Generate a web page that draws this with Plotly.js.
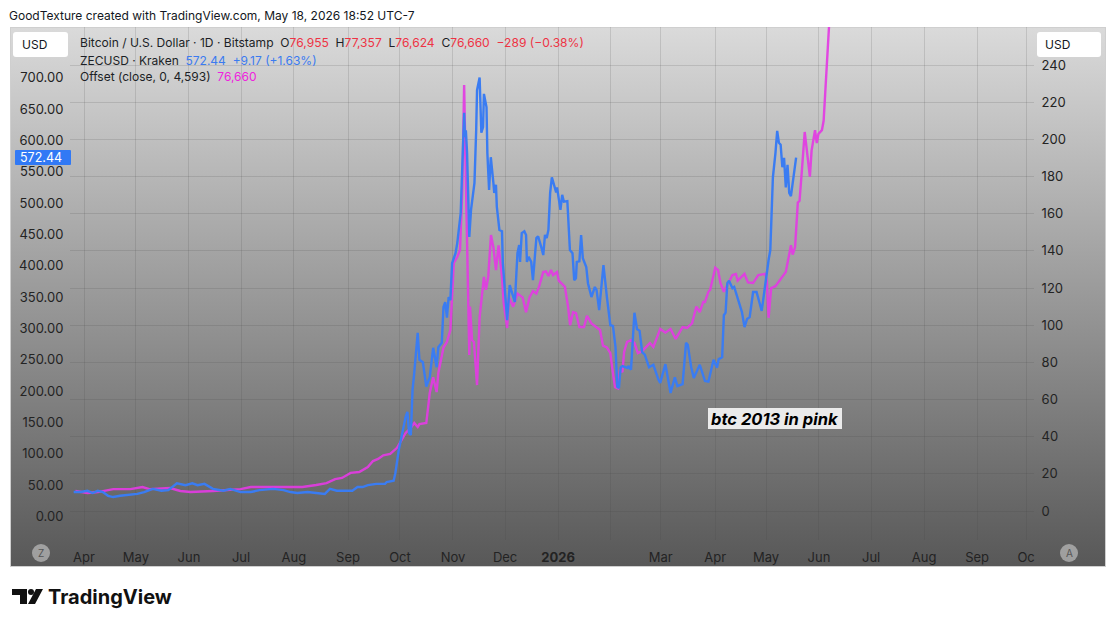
<!DOCTYPE html>
<html><head><meta charset="utf-8">
<script src="https://cdn.plot.ly/plotly-3.0.1.min.js"></script>
<style>
html,body{margin:0;padding:0;background:#fff;width:1115px;height:627px;overflow:hidden}
#bg{position:absolute;left:10px;top:27px;width:1094px;height:538px;border:1px solid #cfcfcf;background:linear-gradient(to bottom,#dadada,#585858)}
#chart{position:absolute;left:0;top:0;width:1115px;height:627px}
</style></head><body>
<div id="bg"></div><div id="chart"></div>
<script>
// Bars are counted in days from the Apr 2025 tick.
const monthTickBar=[0,30.2,61,91.3,122,153.5,183.7,214.5,244.8,275.6,305.8,335.3,367,396.5,427.3,457.6,488.4,519.2,547.7];
const monthTickLabel=['Apr','May','Jun','Jul','Aug','Sep','Oct','Nov','Dec','<b>2026</b>','','Mar','Apr','May','Jun','Jul','Aug','Sep','Oc'];
const leftTicks=[0,50,100,150,200,250,300,350,400,450,500,550,600,650,700];
const rightTicks=[0,20,40,60,80,100,120,140,160,180,200,220,240];

const blueBar=[-6,-2,2,5,8,11,14,17,21,25,31,35,40,45,49,54,59,63,66,70,75,81,85,91,97,102,110,116,120,124,130,135,140,143,147,151,156,159,162,165,170,175,176,180,181,183,185,187,188,189,190,191,192,194,195,197,199,201,203,205,206,208,209,210,211,212,213,214,216,217,219,220,221,221.5,222,222.7,224,225,226,227,228,228.5,230,230.5,231,232,232.5,234,234.5,235.5,236.5,238,238.5,239.5,240,241.5,243,243.5,246,247.5,249.5,250.5,252,253,253.5,254.5,256,257,257.5,258.5,260,261,263,264,266,267,268,269,270,271,272,273,274.5,275,277,278,279,281,282.5,284,285,286,286.5,288,289,290,292,293,295,297,298,299.5,302,304,306,307.5,309,310,311,312,313,316,316.5,318,320,321.5,323,324.5,326,328.5,331,334,335,338,339.5,341,343.5,345,348,350,351,353,354.5,358,361,363,366,368,369,371,372,373,374,375,377,378,382.5,384,385.5,387,389,391,394,396,398,399,400.5,402,403,404,405,406,407,408,409,410,411,414];
const blueClose=[39,39,41,37.5,41,39,33,31,33,34,36,39,44,41,42,53,50,53,50,52,44,41,44,39,39,42,44,42,39,37.5,39,37.5,36,44,41,41,41,47,47,50,52,52,55,57,69,106,133,159,167,133,130,202,229,293,250,246,207,222,269,238,270,277,334,342,317,350,345,404,420,436,484,580,644,605,616,580,446,489,510,532,616,680,700,660,612,621,674,653,580,521,573,532,516,529,494,457,455,404,313,369,350,342,420,433,406,452,455,449,406,414,406,377,444,447,428,417,449,444,457,516,541,532,517,525,489,513,502,503,425,420,377,380,406,407,449,412,398,372,350,366,361,329,401,350,305,304,270,207,205,238,240,237,240,234,325,299,296,262,258,238,242,218,213,243,218,197,222,208,211,277,274,238,221,242,216,215,250,237,251,254,321,325,372,376,364,366,326,302,315,318,358,358,328,372,409,425,541,580,615,596,593,557,572,525,561,516,511,572.44];

const pinkBar=[-5,2,8,17,27,34,38,50,56,62,75,85,91,97,110,120,127,135,141,146,150,155,160,165,168,171,174,178,182,187,190,192,194,195,199,201,203,205,206,209,211,213,214.5,215,217,218.6,220,221,222,222.7,224,224.4,225.6,226.7,228.5,230,232.5,233.7,235,236.6,238,239.5,241,243,244,246,247,249.5,252,255,257,259,261,263,264.5,267,268.6,270,271.5,272.7,275,276,279.6,281.4,282.6,284.3,286,288,290.7,292.4,295,300,301.7,304,306,307,308.7,310.5,311.6,313,314,315.7,318,320,322,324.4,329,331,335,338,341,344,348,350.6,353.5,356,358,360,361,363,364,367,368.6,370,372,377,379,380,384,386,389,392,396,397,398,399.5,402,408,411,412,413.4,415,416,417.5,419,422,423,425,426,427,429,430,431,432,433,435];
const pinkClose=[10.8,9.7,10.2,11.8,11.8,12.9,11.8,12.4,10.8,10.2,10.8,11.3,11.8,12.9,12.9,12.9,12.9,14,15,17.2,17.8,20.5,21,23.7,26.9,28,30,30.7,34,42,44.7,47.4,45.2,46.8,47.4,63.5,72,64,74.3,88,91,97.4,122.7,133.5,136.7,140.5,174.4,229.3,178,147.5,84,110,92,91,67.8,104.4,126,119,126,148.5,142,129.7,143,126,112,98.5,115,110,117,115,107,115,118.4,117,120.6,128.6,129,126.5,129.7,127,128.6,124,120.6,110,100,107,106.6,99,99,105,101,97.4,89,88,85,77.5,66.7,66,76,74.8,85.6,91,92,90.4,85,86,90.4,88.3,98,96,98,92.6,99,98.5,101,110,107,112.5,112.5,118,119,131,129.7,122.7,118,127,127.6,124,127.6,123,122.7,127,127.6,124,104,120,121,128.6,143,138,142,166,167,185,204,180,194,205,198,203,205,210,228,246.5,260,291];

const FONT='Inter, "Liberation Sans", sans-serif';
const W=1115,H=627;
const px=x=>x/W, py=y=>1-y/H;
const note=(x,y,text,o={})=>Object.assign({xref:'paper',yref:'paper',x:px(x),y:py(y),text,showarrow:false,xanchor:'left',yanchor:'middle',font:{family:FONT,size:12,color:'#1c1f26'}},o);
const RED='#ee3344',BLU='#3b7bf0',MAG='#ee22dd';
const col=(t,c)=>`<span style="color:${c}">${t}</span>`;
function rrect(x0,y0,x1,y1,r,fill){
  const p=(x,y)=>`${px(x)} ${py(y)}`;
  return {type:'path',xref:'paper',yref:'paper',layer:'above',fillcolor:fill,line:{width:0},
    path:`M ${p(x0+r,y0)} L ${p(x1-r,y0)} Q ${p(x1,y0)} ${p(x1,y0+r)} L ${p(x1,y1-r)} Q ${p(x1,y1)} ${p(x1-r,y1)} L ${p(x0+r,y1)} Q ${p(x0,y1)} ${p(x0,y1-r)} L ${p(x0,y0+r)} Q ${p(x0,y0)} ${p(x0+r,y0)} Z`};
}
const poly=(pts,fill)=>({type:'path',xref:'paper',yref:'paper',layer:'above',fillcolor:fill,line:{width:0},
  path:'M '+pts.map(q=>`${px(q[0])} ${py(q[1])}`).join(' L ')+' Z'});
const circ=(cx,cy,r,fill)=>({type:'circle',xref:'paper',yref:'paper',layer:'above',fillcolor:fill,line:{width:0},x0:px(cx-r),x1:px(cx+r),y0:py(cy+r),y1:py(cy-r)});

// Pink sits on the base (right-hand) axis so that blue, on the overlaying left-hand axis, is drawn on top.
const traces=[
 {x:pinkBar,y:pinkClose,yaxis:'y',type:'scatter',mode:'lines',name:'Offset (close, 0, 4,593)',line:{color:'#e33be3',width:2.4},opacity:.92,cliponaxis:true},
 {x:blueBar,y:blueClose,yaxis:'y2',type:'scatter',mode:'lines',name:'ZECUSD',line:{color:'#3a7cf2',width:2.4}}
];
const tickFont={family:FONT,size:13,color:'#232323'};
const layout={
 width:W,height:H,margin:{l:0,r:0,t:0,b:0,pad:0},paper_bgcolor:'rgba(0,0,0,0)',plot_bgcolor:'rgba(0,0,0,0)',showlegend:false,hovermode:false,
 xaxis:{domain:[70/W,1034/W],range:[-8.14,552.3],tickmode:'array',tickvals:monthTickBar,ticktext:monthTickLabel,tickangle:0,showgrid:true,gridcolor:'rgba(70,70,70,.16)',gridwidth:1,zeroline:false,showline:false,ticks:'outside',ticklen:5,tickcolor:'rgba(0,0,0,0)',tickfont:tickFont,automargin:false},
 yaxis:{domain:[1-540/H,1-27/H],range:[-15.6,260.5],side:'right',anchor:'x',tickmode:'array',tickvals:rightTicks,showgrid:true,gridcolor:'rgba(70,70,70,.16)',gridwidth:1,zeroline:false,showline:false,ticks:'outside',ticklen:4,tickcolor:'rgba(0,0,0,0)',tickfont:tickFont,automargin:false},
 yaxis2:{domain:[1-540/H,1-27/H],range:[-37.5,780.7],overlaying:'y',side:'left',anchor:'x',tickmode:'array',tickvals:leftTicks,tickformat:'.2f',showgrid:false,zeroline:false,showline:false,ticks:'outside',ticklen:3,tickcolor:'rgba(0,0,0,0)',tickfont:tickFont,automargin:false},
 shapes:[
  rrect(13,32,68,57,3,'#ffffff'),
  rrect(1037,32,1101,57,3,'#ffffff'),
  rrect(15,150,71,165,1,'#3179f5'),
  circ(41,553,9,'rgba(255,255,255,.42)'),
  circ(1069,553,9,'rgba(255,255,255,.42)'),
  poly([[12,589],[27,589],[27,604],[20,604],[20,595],[12,595]],'#111'),
  circ(31,592,3,'#111'),
  poly([[36,589],[43,589],[35,604],[28,604]],'#111'),
  rrect(708,408,842,429,0,'rgba(238,238,238,.97)')
 ],
 annotations:[
  note(7,15,'GoodTexture created with TradingView.com, May 18, 2026 18:52 UTC-7',{font:{family:FONT,size:12,color:'#131722'}}),
  note(20,44,'USD',{font:{family:FONT,size:12,color:'#131722'}}),
  note(1043,44,'USD',{font:{family:FONT,size:12,color:'#131722'}}),
  note(18,157,'572.44',{font:{family:FONT,size:12.5,color:'#ffffff'}}),
  note(78,43,'Bitcoin / U.S. Dollar · 1D · Bitstamp  O'+col('76,955',RED)+'  H'+col('77,357',RED)+'  L'+col('76,624',RED)+'  C'+col('76,660',RED)+'  '+col('−289 (−0.38%)',RED),{font:{family:FONT,size:12.07,color:'#1c1f26'}}),
  note(78,60,'ZECUSD · Kraken  '+col('572.44',BLU)+'  '+col('+9.17 (+1.63%)',BLU)),
  note(78,77,'Offset (close, 0, 4,593)  '+col('76,660',MAG)),
  note(775,419,'<b><i>btc 2013 in pink</i></b>',{xanchor:'center',font:{family:FONT,size:16.5,color:'#000'}}),
  note(41,553,'Z',{xanchor:'center',font:{family:FONT,size:10,color:'#555'}}),
  note(1069,553,'A',{xanchor:'center',font:{family:FONT,size:10,color:'#555'}}),
  note(46,597,'<b>TradingView</b>',{font:{family:FONT,size:20,color:'#111'}})
 ]
};
Plotly.newPlot('chart',traces,layout,{displayModeBar:false,staticPlot:true});
</script></body></html>
